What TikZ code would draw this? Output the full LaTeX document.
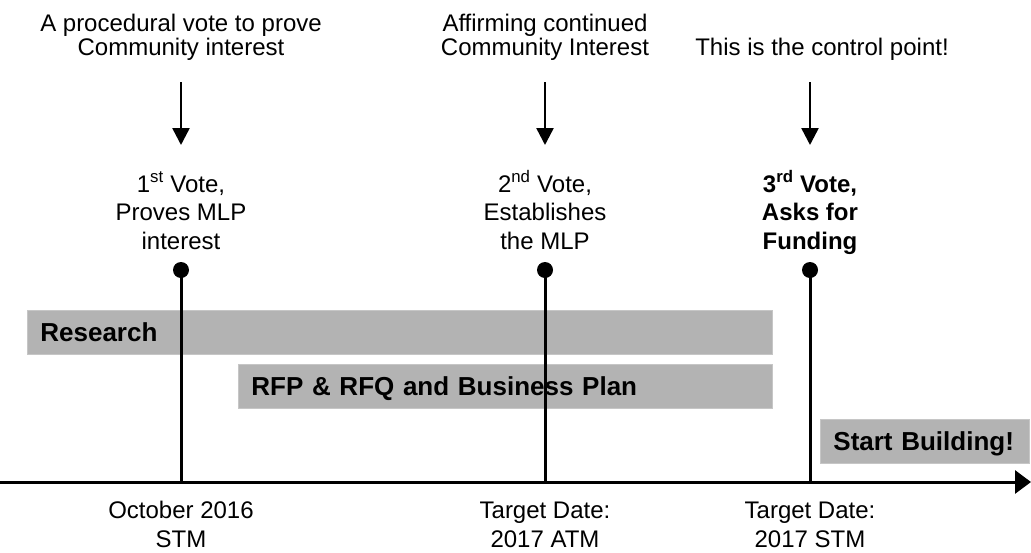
\documentclass[tikz,border=0pt]{standalone}
\usepackage{fontspec}
\setmainfont{Liberation Sans}
\usetikzlibrary{arrows.meta}
\definecolor{bargray}{HTML}{B3B3B3}
\definecolor{barline}{HTML}{C6C6C6}

\begin{document}
\begin{tikzpicture}[x=1pt,y=-1pt,
    txt/.style={align=center,inner sep=0pt,anchor=base,font=\fontsize{24}{24}\selectfont},
    vote/.style={txt,font=\fontsize{24}{28.5}\selectfont},
    bar/.style={fill=bargray,draw=barline,line width=0.8pt,anchor=north west,
        inner xsep=13pt,inner ysep=0pt,minimum height=44pt,align=left,
        text height=19pt,text depth=0pt,font=\fontsize{26}{26}\selectfont\bfseries},
    dot/.style={circle,fill=black,inner sep=0pt,minimum size=16pt},
    stem/.style={line width=3pt},
    drop/.style={line width=2.5pt,-{Triangle[length=17pt,width=17pt]}}]
        \useasboundingbox (0,0) rectangle (1031,552);
        % phase bars
        \node [bar,text width=719pt] (research) at (27,310) {Research};
        \node [bar,text width=508pt] (rfp) at (238,364) {RFP \& RFQ and Business Plan};
        \node [bar,text width=183pt] (build) at (820,419) {Start Building!};
        % notes above the votes
        \node [txt] (note1) at (181,55) {A procedural vote to prove\\Community interest};
        \node [txt] (note2) at (545,55) {Affirming continued\\Community Interest};
        \node [txt] (note3) at (822,55) {This is the control point!};
        \coordinate (top1) at (181,82);
        \coordinate (tip1) at (181,145);
        \coordinate (top2) at (545,82);
        \coordinate (tip2) at (545,145);
        \coordinate (top3) at (810,82);
        \coordinate (tip3) at (810,145);
        \draw [drop] (top1) -- (tip1);
        \draw [drop] (top2) -- (tip2);
        \draw [drop] (top3) -- (tip3);
        % votes
        \node [vote] (vote1) at (181,249) {1\textsuperscript{st} Vote,\\Proves MLP\\interest};
        \node [vote] (vote2) at (545,249) {2\textsuperscript{nd} Vote,\\Establishes\\the MLP};
        \node [vote,font=\fontsize{24}{28.5}\selectfont\bfseries] (vote3) at (810,249) {3\textsuperscript{rd} Vote,\\Asks for\\Funding};
        \node [dot] (dot1) at (181,270) {};
        \node [dot] (dot2) at (545,270) {};
        \node [dot] (dot3) at (810,270) {};
        \coordinate (base1) at (181,482);
        \coordinate (base2) at (545,482);
        \coordinate (base3) at (810,482);
        \draw [stem] (dot1.center) -- (base1);
        \draw [stem] (dot2.center) -- (base2);
        \draw [stem] (dot3.center) -- (base3);
        % time axis
        \coordinate (start) at (0,482);
        \coordinate (end) at (1031,482);
        \draw [line width=3pt,-{Triangle[length=16pt,width=23pt]}] (start) -- (end);
        \node [vote] (date1) at (181,547) {October 2016\\STM};
        \node [vote] (date2) at (545,547) {Target Date:\\2017 ATM};
        \node [vote] (date3) at (810,547) {Target Date:\\2017 STM};
\end{tikzpicture}
\end{document}
